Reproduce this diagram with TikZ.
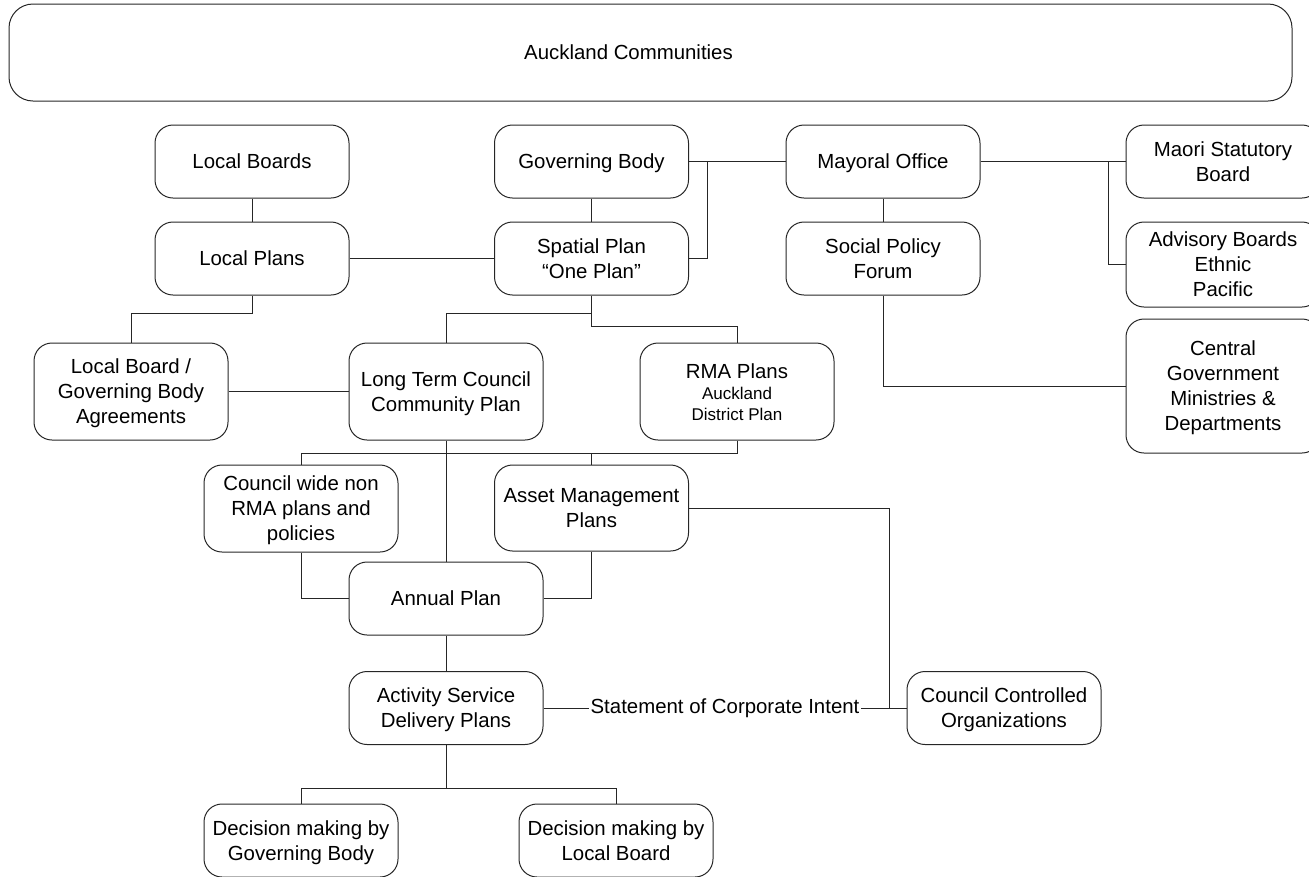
\documentclass[tikz,border=0pt]{standalone}
\usepackage{fontspec}
\setmainfont{Liberation Sans}
\usetikzlibrary{positioning,calc}
\newcommand{\mystrut}{\rule[-3.3pt]{0pt}{17.6pt}}
\newcommand{\ml}[2][3.4pt]{\raisebox{0pt}[\dimexpr\height+#1\relax][\depth]{\begin{tabular}{@{}c@{}}#2\end{tabular}}}
\newcommand{\smalltxt}{\fontsize{12.75}{15.75}\selectfont}
\begin{document}
\begin{tikzpicture}[x=0.75pt,y=-0.75pt,
  box/.style={draw=black!85, line width=0.75pt, rounded corners=13.5pt, align=center,
    inner sep=0pt, minimum width=145.5pt, minimum height=54.75pt,
    font=\fontsize{15.3}{18.75}\selectfont,
    execute at begin node=\mystrut, execute at end node=\mystrut},
  link/.style={draw=black!85, line width=0.75pt}]
\useasboundingbox (0,0) rectangle (1309,876);
% nodes
\node[box, minimum width=962.25pt, minimum height=72.75pt, rounded corners=18pt] (AC) at (650.5,52.5) {Auckland Communities\hspace{33pt}};
\node[box] (LB) at (252,161.5) {Local Boards};
\node[box] (LP) at (252,258.5) {Local Plans};
\node[box, minimum height=72.75pt] (AG) at (131,391.5) {\ml{Local Board /\\Governing Body\\Agreements}};
\node[box] (GB) at (591.5,161.5) {Governing Body};
\node[box] (SP) at (591.5,258.5) {\ml{Spatial Plan\\“One Plan”}};
\node[box, minimum height=72.75pt] (LT) at (446,391.5) {\ml{Long Term Council\\Community Plan}};
\node[box, minimum height=72.75pt] (RMA) at (737,391.5) {\ml[5pt]{RMA Plans\\[-3pt]{\smalltxt Auckland}\\[-3pt]{\smalltxt District Plan}}};
\node[box] (MO) at (883,161.5) {Mayoral Office};
\node[box] (SPF) at (883,258.5) {\ml{Social Policy\\Forum}};
\node[box] (MSB) at (1223,161.5) {\ml{Maori Statutory\\Board}};
\node[box, minimum height=63.75pt] (ADV) at (1223,264.5) {\ml{Advisory Boards\\Ethnic\\Pacific}};
\node[box, minimum height=100.5pt] (CG) at (1223,386) {\ml{Central\\Government\\Ministries \&\\Departments}};
\node[box, minimum height=65.25pt] (CW) at (301,508.5) {\ml{Council wide non\\RMA plans and\\policies}};
\node[box, minimum height=64.5pt] (AM) at (591.5,508) {\ml{Asset Management\\Plans}};
\node[box] (AP) at (446,598.5) {Annual Plan};
\node[box] (ASD) at (446,708) {\ml{Activity Service\\Delivery Plans}};
\node[box] (CCO) at (1004,708) {\ml{Council Controlled\\Organizations}};
\node[box] (DG) at (301,840.5) {\ml{Decision making by\\Governing Body}};
\node[box] (DL) at (616,840.5) {\ml{Decision making by\\Local Board}};
% junction coordinates
\coordinate (j1) at (707,161.5);
\coordinate (j2) at (1108,161.5);
\coordinate (j3) at (889,708);
% connectors
\draw[link] (LB.south) -- (LP.north);
\draw[link] (LP.east) -- (SP.west);
\draw[link] (LP.south) -- ++(0,18) -| (AG.north);
\draw[link] (AG.east) -- (LT.west);
\draw[link] (GB.south) -- (SP.north);
\draw[link] (GB.east) -- (MO.west);
\draw[link] (SP.east) -| (j1);
\draw[link] (SP.south) -- ++(0,18) -| (LT.north);
\draw[link] (SP.south) -- ++(0,31) -| (RMA.north);
\draw[link] (MO.south) -- (SPF.north);
\draw[link] (MO.east) -- (MSB.west);
\draw[link] (j2) |- (ADV.west);
\draw[link] (SPF.south) |- (CG.west);
\draw[link] (LT.south) -- (AP.north);
\draw[link] (RMA.south) -- ++(0,13) -| (CW.north);
\draw[link] (AM.north) -- ++(0,-12);
\draw[link] (CW.south) |- (AP.west);
\draw[link] (AM.south) |- (AP.east);
\draw[link] (AM.east) -| (j3);
\draw[link] (AP.south) -- (ASD.north);
\draw[link] (ASD.east) -- (CCO.west) node[midway, fill=white, inner sep=1pt, font=\fontsize{15.3}{18.75}\selectfont] (SCI) {Statement of Corporate Intent};
\draw[link] (ASD.south) -- ++(0,43) -| (DG.north);
\draw[link] (ASD.south) -- ++(0,43) -| (DL.north);
\end{tikzpicture}
\end{document}
